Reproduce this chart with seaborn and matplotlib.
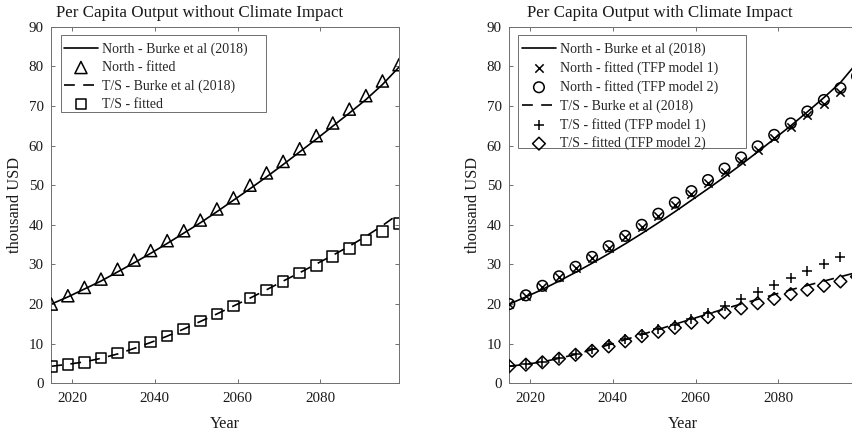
import matplotlib
matplotlib.use("Agg")
import matplotlib.pyplot as plt
from matplotlib.patches import Rectangle
import seaborn as sns
import pandas as pd

# ---------------- data ----------------
years = [2015, 2019, 2023, 2027, 2031, 2035, 2039, 2043, 2047, 2051, 2055,
         2059, 2063, 2067, 2071, 2075, 2079, 2083, 2087, 2091, 2095, 2099]

# left panel: without climate impact
north_burke_nc = [20.0, 21.8, 23.8, 25.8, 28.1, 30.4, 32.8, 35.3, 37.9, 40.5, 43.3,
                  46.2, 49.1, 52.1, 55.2, 58.4, 61.6, 64.9, 68.2, 71.6, 75.4, 79.8]
north_fit_nc = [20.0, 22.1, 24.2, 26.3, 28.8, 31.1, 33.5, 36.0, 38.5, 41.2, 44.0,
                46.8, 50.0, 53.1, 56.0, 59.2, 62.5, 65.7, 69.2, 72.6, 76.3, 80.4]
ts_burke_nc = [4.3, 4.8, 5.4, 6.3, 7.4, 8.8, 10.3, 11.9, 13.7, 15.6, 17.5,
               19.5, 21.5, 23.6, 25.8, 27.9, 30.1, 32.3, 34.6, 37.1, 39.8, 42.8]
ts_fit_nc = [4.2, 4.7, 5.3, 6.4, 7.6, 9.0, 10.4, 11.9, 13.7, 15.7, 17.5,
             19.5, 21.5, 23.6, 25.7, 27.8, 29.8, 32.0, 34.0, 36.2, 38.3, 40.3]

# right panel: with climate impact
north_burke_c = [20.0, 21.8, 23.7, 25.8, 28.0, 30.3, 32.7, 35.2, 37.8, 40.5, 43.3,
                 46.2, 49.1, 52.1, 55.2, 58.4, 61.7, 65.0, 68.5, 72.1, 75.9, 80.9]
north_fit1_c = [20.0, 22.1, 24.4, 26.8, 29.2, 31.6, 34.2, 36.8, 39.5, 42.2, 44.9,
                47.7, 50.5, 53.3, 56.1, 58.9, 61.8, 64.7, 67.6, 70.5, 73.4, 76.3]
north_fit2_c = [20.0, 22.2, 24.6, 27.0, 29.4, 31.9, 34.6, 37.2, 40.0, 42.8, 45.6,
                48.5, 51.3, 54.2, 57.0, 59.8, 62.7, 65.6, 68.6, 71.5, 74.5, 77.5]
ts_burke_c = [4.3, 4.8, 5.4, 6.3, 7.3, 8.5, 9.7, 11.0, 12.3, 13.6, 14.9,
              16.2, 17.5, 18.8, 20.0, 21.2, 22.4, 23.6, 24.7, 25.8, 26.9, 28.0]
ts_fit1_c = [4.3, 4.8, 5.4, 6.3, 7.4, 8.6, 9.8, 11.1, 12.4, 13.6, 14.8,
             16.3, 17.8, 19.4, 21.2, 23.0, 24.8, 26.5, 28.3, 30.1, 31.8, 33.4]
ts_fit2_c = [4.3, 4.7, 5.3, 6.2, 7.2, 8.2, 9.3, 10.6, 11.9, 13.0, 14.0,
             15.3, 16.7, 17.9, 18.9, 20.2, 21.3, 22.5, 23.6, 24.6, 25.7, 26.9]

x_ticks = [2020, 2040, 2060, 2080]
y_ticks = [0, 10, 20, 30, 40, 50, 60, 70, 80, 90]

titles = ["Per Capita Output without Climate Impact",
          "Per Capita Output with Climate Impact"]

# ---------------- style ----------------
sns.set_theme(style="white")
plt.rcParams["font.family"] = ["Liberation Serif", "DejaVu Serif"]
plt.rcParams["axes.edgecolor"] = "#6e6e6e"
plt.rcParams["axes.linewidth"] = 0.7

W, H = 853, 434
fig = plt.figure(figsize=(W / 100, H / 100), dpi=100)

ax_w = 347.7
ax_h = 356.6
ax1 = fig.add_axes([51.3 / W, (H - 383.3) / H, ax_w / W, ax_h / H])
ax2 = fig.add_axes([509.3 / W, (H - 383.3) / H, ax_w / W, ax_h / H])

df_nc = pd.DataFrame({"year": years, "nb": north_burke_nc, "nf": north_fit_nc,
                      "tb": ts_burke_nc, "tf": ts_fit_nc})
df_c = pd.DataFrame({"year": years, "nb": north_burke_c, "nf1": north_fit1_c,
                     "nf2": north_fit2_c, "tb": ts_burke_c, "tf1": ts_fit1_c,
                     "tf2": ts_fit2_c})

LW = 1.2
MLW = 1.1
dash = (0, (6.5, 5))

# left panel
sns.lineplot(data=df_nc, x="year", y="nb", ax=ax1, color="black", lw=LW,
             label="North - Burke et al (2018)")
sns.scatterplot(data=df_nc, x="year", y="nf", ax=ax1, marker="^", s=76,
                facecolor="none", edgecolor="black", linewidth=MLW,
                label="North - fitted", zorder=3)
sns.lineplot(data=df_nc, x="year", y="tb", ax=ax1, color="black", lw=LW,
             linestyle=dash, label="T/S - Burke et al (2018)")
sns.scatterplot(data=df_nc, x="year", y="tf", ax=ax1, marker="s", s=58,
                facecolor="none", edgecolor="black", linewidth=MLW,
                label="T/S - fitted", zorder=3)

# right panel
sns.lineplot(data=df_c, x="year", y="nb", ax=ax2, color="black", lw=LW,
             label="North - Burke et al (2018)")
sns.scatterplot(data=df_c, x="year", y="nf1", ax=ax2, marker="x", s=36,
                color="black", linewidth=MLW,
                label="North - fitted (TFP model 1)", zorder=3)
sns.scatterplot(data=df_c, x="year", y="nf2", ax=ax2, marker="o", s=58,
                facecolor="none", edgecolor="black", linewidth=MLW,
                label="North - fitted (TFP model 2)", zorder=3)
sns.lineplot(data=df_c, x="year", y="tb", ax=ax2, color="black", lw=LW,
             linestyle=dash, label="T/S - Burke et al (2018)")
sns.scatterplot(data=df_c, x="year", y="tf1", ax=ax2, marker="+", s=58,
                color="black", linewidth=MLW,
                label="T/S - fitted (TFP model 1)", zorder=3)
sns.scatterplot(data=df_c, x="year", y="tf2", ax=ax2, marker="D", s=42,
                facecolor="none", edgecolor="black", linewidth=MLW,
                label="T/S - fitted (TFP model 2)", zorder=3)

title_x = [199.3, 660.3]
# legend frame boxes in pixel coords (left, top, right, bottom)
leg_boxes = [(60.7, 35.0, 265.7, 112.3), (518.3, 35.0, 746.0, 147.7)]
for ax, t, tx, lb in zip([ax1, ax2], titles, title_x, leg_boxes):
    ax.set_xlim(2015, 2099)
    ax.set_ylim(0, 90)
    ax.set_xticks(x_ticks)
    ax.set_yticks(y_ticks)
    ax.tick_params(direction="in", length=3, width=0.7, color="#6e6e6e",
                   top=True, right=True, bottom=True, left=True,
                   labelsize=10.8, labelcolor="#1a1a1a")
    ax.tick_params(axis="y", pad=5.5)
    ax.tick_params(axis="x", pad=6)
    for sp in ax.spines.values():
        sp.set_visible(True)
        sp.set_color("#6e6e6e")
        sp.set_linewidth(0.7)
    ax.set_xlabel("Year", fontsize=11.8, labelpad=8, color="#1a1a1a")
    ax.set_ylabel("thousand USD", fontsize=11.8, labelpad=4, color="#1a1a1a")
    fig.text(tx / W, (H - 17) / H, t, ha="center", va="baseline",
             fontsize=12.2, color="#1a1a1a")
    leg = ax.legend(loc="upper left", bbox_to_anchor=(-3.0 / ax_w, 1.0),
                    fontsize=10, frameon=False,
                    borderaxespad=0.6, borderpad=0.55, labelspacing=0.36,
                    handlelength=2.4, handletextpad=0.3, scatterpoints=1)
    leg.set_zorder(6)
    l, tp, r, b = lb
    rect = Rectangle((l / W, 1 - b / H), (r - l) / W, (b - tp) / H,
                     transform=fig.transFigure, facecolor="white",
                     edgecolor="#6e6e6e", linewidth=0.7, zorder=5)
    ax.add_patch(rect)

fig.savefig("out.png", dpi=100)
